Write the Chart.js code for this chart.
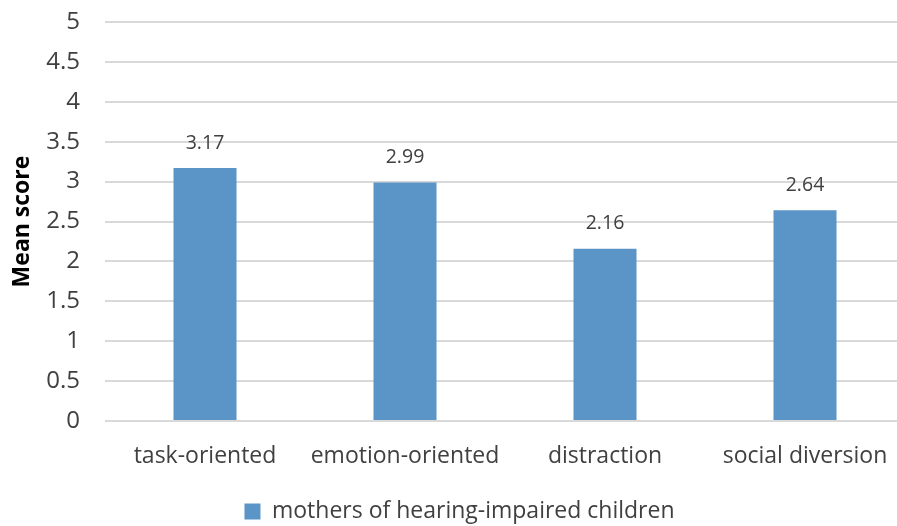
<!DOCTYPE html>
<html>
<head>
<meta charset="utf-8">
<script src="https://cdn.jsdelivr.net/npm/chart.js@4"></script>
<style>
  html, body { margin: 0; padding: 0; background: #fff; overflow: hidden; }
  .wrap { width: 910px; height: 526px; }
</style>
</head>
<body>
<div class="wrap"><canvas id="barChart"></canvas></div>
<script>
const categories = ['task-oriented', 'emotion-oriented', 'distraction', 'social diversion'];
const meanScores = [3.17, 2.99, 2.16, 2.64];
const seriesName = 'mothers of hearing-impaired children';

const FONT = '"Open Sans", sans-serif';
const TEXT = '#404040';

// values written above each bar
const barLabels = {
    id: 'barLabels',
    afterLayout(chart) {
        // nudge the legend a little lower and right, like the original
        chart.legend.top += 7;
        chart.legend.bottom += 7;
        chart.legend.left += 7;
        chart.legend.right += 7;
    },
    afterDatasetsDraw(chart) {
        const ctx = chart.ctx;
        const meta = chart.getDatasetMeta(0);
        ctx.save();
        ctx.font = '19.5px ' + FONT;
        ctx.fillStyle = TEXT;
        ctx.textAlign = 'center';
        ctx.textBaseline = 'middle';
        meta.data.forEach((bar, i) => {
            ctx.fillText(meanScores[i].toFixed(2), bar.x, bar.y - 25);
        });
        ctx.restore();
    }
};

const ctx = document.getElementById('barChart').getContext('2d');
new Chart(ctx, {
    type: 'bar',
    data: {
        labels: categories,
        datasets: [{
            label: seriesName,
            data: meanScores,
            backgroundColor: '#5B94C6',
            borderWidth: 0,
            barPercentage: 0.315,
            categoryPercentage: 1
        }]
    },
    options: {
        responsive: true,
        maintainAspectRatio: false,
        animation: false,
        layout: { padding: { top: 22, right: 5, left: 0, bottom: 0 } },
        plugins: {
            tooltip: { enabled: false },
            legend: {
                position: 'bottom',
                labels: {
                    boxWidth: 16,
                    boxHeight: 16,
                    padding: 2,
                    color: TEXT,
                    font: { family: FONT, size: 23 }
                }
            }
        },
        scales: {
            x: {
                grid: { display: false },
                border: { display: false },
                ticks: {
                    color: TEXT,
                    padding: 14,
                    font: { family: FONT, size: 23 }
                },
                afterFit(scale) { scale.height = 70; }
            },
            y: {
                min: 0,
                max: 5,
                ticks: {
                    stepSize: 0.5,
                    color: TEXT,
                    padding: 25,
                    font: { family: FONT, size: 24 },
                    callback: (v) => String(v)
                },
                grid: { color: '#D9D9D9', lineWidth: 2, drawTicks: false },
                border: { display: false },
                title: {
                    display: true,
                    text: 'Mean score',
                    color: '#000',
                    padding: { top: 9, bottom: 0 },
                    font: { family: FONT, size: 23, weight: 'bold' }
                },
                afterFit(scale) {
                    scale.width = 105;
                    scale.paddingTop = 0;
                    scale.paddingBottom = 0;
                }
            }
        }
    },
    plugins: [barLabels]
});
</script>
</body>
</html>
